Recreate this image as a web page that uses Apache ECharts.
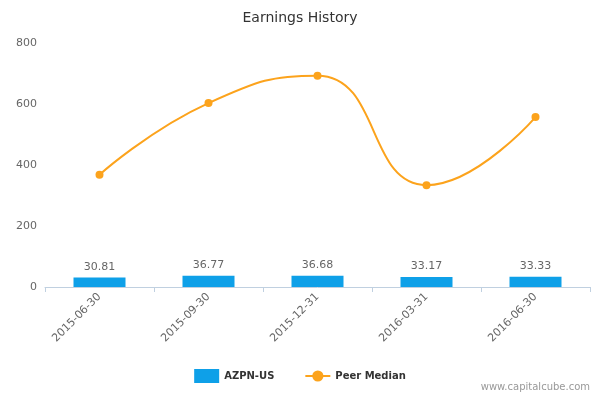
<!DOCTYPE html>
<html><head><meta charset="utf-8">
<script src="https://cdn.jsdelivr.net/npm/echarts@6/dist/echarts.min.js"></script>
<style>html,body{margin:0;padding:0;background:#fff}#c{width:600px;height:400px}</style>
</head><body><div id="c"></div>
<script>
const categories = ['2015-06-30','2015-09-30','2015-12-31','2016-03-31','2016-06-30'];
const azpn = [30.81, 36.77, 36.68, 33.17, 33.33];
const peer = [368, 603, 693, 334, 557];
const yTicks = [0, 200, 400, 600, 800];
const chart = echarts.init(document.getElementById('c'));
chart.setOption({
  animation: false,
  title: { text: 'Earnings History', left: 'center', top: 6, textStyle: { fontFamily: 'DejaVu Sans', fontSize: 14, fontWeight: 'normal', color: '#333' } },
  grid: { left: 45, right: 10, top: 43, bottom: 113 },
  legend: { bottom: 12, left: 'center', itemGap: 30, textStyle: { fontFamily: 'DejaVu Sans', fontSize: 10, fontWeight: 'bold', color: '#333' },
    data: [{ name: 'AZPN-US', icon: 'rect' }, { name: 'Peer Median' }] },
  graphic: [{ type: 'text', right: 10, bottom: 8, style: { text: 'www.capitalcube.com', fill: '#999', font: '10px DejaVu Sans' } }],
  xAxis: { type: 'category', data: categories, axisLine: { lineStyle: { color: '#c0d0e0' } },
    axisTick: { show: true, alignWithLabel: false, lineStyle: { color: '#c0d0e0' } },
    axisLabel: { rotate: 45, color: '#666', fontFamily: 'DejaVu Sans', fontSize: 11, interval: 0 } },
  yAxis: { type: 'value', min: yTicks[0], max: yTicks[yTicks.length - 1], interval: 200,
    axisLabel: { color: '#666', fontFamily: 'DejaVu Sans', fontSize: 11 },
    splitLine: { show: false }, axisLine: { show: false }, axisTick: { show: false } },
  series: [
    { name: 'AZPN-US', type: 'bar', data: azpn, barWidth: 52, itemStyle: { color: '#0ea0e8' },
      label: { show: true, position: 'top', color: '#666', fontFamily: 'DejaVu Sans', fontSize: 11, formatter: p => p.value.toFixed(2) } },
    { name: 'Peer Median', type: 'line', data: peer, smooth: true, symbol: 'circle', symbolSize: 8,
      lineStyle: { color: '#fca31c', width: 2 }, itemStyle: { color: '#fca31c' } }
  ]
});
</script></body></html>
